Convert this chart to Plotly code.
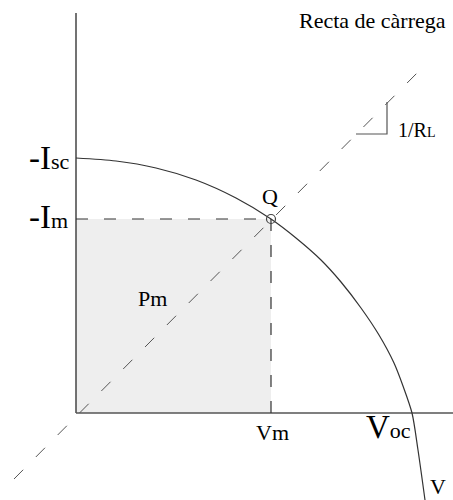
import plotly.graph_objects as go

# I-V characteristic of the cell (V to the right, I upward), read as sample points
curve_v = [0, 40, 80, 120, 160, 195, 220, 245, 265, 285, 303, 318, 327, 336, 342, 349]
curve_i = [255, 252, 245, 233, 215, 194, 175, 153, 131, 105, 78, 50, 27, 0, -37, -87]

# Maximum-power point Q
v_m = 195
i_m = 194

# Load line through the origin and Q
load_v = [-62, 347]
load_i = [-66, 346]

# Slope marker on the load line
slope_v = [280, 311, 311]
slope_i = [279, 279, 311]

# Axis extents
x_axis_end = 377
y_axis_top = 400

SERIF = "Liberation Serif"
DARK = "#333333"

fig = go.Figure()

# Shaded power rectangle Pm
fig.add_shape(type="rect", x0=0, y0=0, x1=v_m, y1=i_m, xref="x", yref="y",
              line=dict(width=0), fillcolor="#eeeeee", layer="below")

# Axes
fig.add_trace(go.Scatter(x=[0, 0], y=[y_axis_top, 0], mode="lines",
                         line=dict(color="#444444", width=1.5), hoverinfo="skip"))
fig.add_trace(go.Scatter(x=[0, x_axis_end], y=[0, 0], mode="lines",
                         line=dict(color="#555555", width=1.5), hoverinfo="skip"))

# Dashed guides to Q
fig.add_trace(go.Scatter(x=[0, v_m], y=[i_m, i_m], mode="lines",
                         line=dict(color=DARK, width=1.2, dash="12px,16px"), hoverinfo="skip"))
fig.add_trace(go.Scatter(x=[v_m, v_m], y=[0, i_m], mode="lines",
                         line=dict(color=DARK, width=1.2, dash="12px,14px"), hoverinfo="skip"))

# Load line
fig.add_trace(go.Scatter(x=load_v, y=load_i, mode="lines",
                         line=dict(color="#555555", width=1, dash="13px,18px"), hoverinfo="skip"))

# Slope marker
fig.add_trace(go.Scatter(x=slope_v, y=slope_i, mode="lines",
                         line=dict(color="#555555", width=1.2), hoverinfo="skip"))

# I-V curve
fig.add_trace(go.Scatter(x=curve_v, y=curve_i, mode="lines",
                         line=dict(color=DARK, width=1.2, shape="spline", smoothing=0.8),
                         hoverinfo="skip"))

# Operating point
fig.add_trace(go.Scatter(x=[v_m], y=[i_m], mode="markers",
                         marker=dict(size=9, color="rgba(0,0,0,0)",
                                     line=dict(color="#444444", width=1.2)),
                         hoverinfo="skip"))

def label(x, y, text, size=22, xanchor="left", yanchor="middle"):
    fig.add_annotation(x=x, y=y, xref="x", yref="y", text=text, showarrow=False,
                       xanchor=xanchor, yanchor=yanchor,
                       font=dict(family=SERIF, size=size, color="#000000"))

label(221, 393, "Recta de càrrega", size=22)
label(320, 283, "1/R<span style='font-size:14px'>L</span>", size=20)
label(-49, 255, "-I<span style='font-size:22px'>sc</span>", size=33)
label(-49, 196, "-I<span style='font-size:22px'>m</span>", size=33)
label(v_m - 1, 217, "Q", size=22, xanchor="center")
label(60, 115, "Pm", size=22)
label(178, -19, "Vm", size=22)
label(288, -14, "V<span style='font-size:22px'>oc</span>", size=33)
label(352, -73, "V", size=22)

fig.update_layout(
    width=453, height=500,
    margin=dict(l=0, r=0, t=0, b=0),
    paper_bgcolor="white", plot_bgcolor="white",
    showlegend=False,
    xaxis=dict(range=[-76, 377], visible=False, fixedrange=True),
    yaxis=dict(range=[-87, 413], visible=False, fixedrange=True),
)

fig.write_html("out.html")
